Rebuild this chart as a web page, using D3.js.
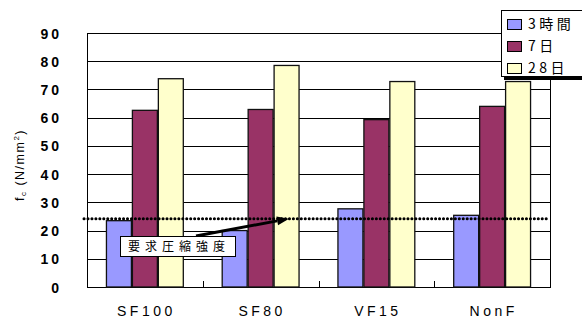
<!DOCTYPE html>
<html>
<head>
<meta charset="utf-8">
<script src="https://cdn.jsdelivr.net/npm/d3@7/dist/d3.min.js"></script>
<style>
  html, body { margin: 0; padding: 0; background: #fff; }
  svg { display: block; }
  text { font-family: "Liberation Sans", Arial, "Noto Sans CJK JP", sans-serif; fill: #000; }
  .jp { font-family: "Noto Sans CJK JP", "Liberation Sans", sans-serif; }
</style>
</head>
<body>
<svg id="chart" width="582" height="320"></svg>
<script>
// Compressive strength of each mix at three ages
const categories = ["SF100", "SF80", "VF15", "NonF"];
const seriesNames = ["3時間", "7日", "28日"];
const hours3 = [23.5, 20.0, 27.7, 25.4];
const days7 = [62.6, 62.9, 59.3, 64.0];
const days28 = [73.8, 78.5, 72.8, 72.8];
const requiredStrength = 24.2;
const requiredLabel = "要求圧縮強度";
const yTicks = [0, 10, 20, 30, 40, 50, 60, 70, 80, 90];

const seriesValues = [hours3, days7, days28];
const colors = ["#9999FF", "#993366", "#FFFFCC"];

const svg = d3.select("#chart");
const plot = { left: 87, right: 550, top: 33, bottom: 287 };

const x = d3.scaleBand().domain(categories).range([plot.left, plot.right]).padding(0);
const inner = d3.scaleBand().domain(d3.range(3)).range([0, x.bandwidth()])
  .paddingInner(0).paddingOuter(0.73);
const y = d3.scaleLinear().domain([0, 90]).range([plot.bottom, plot.top]);

// horizontal gridlines
svg.append("g").selectAll("line").data(yTicks).join("line")
  .attr("x1", plot.left).attr("x2", plot.right)
  .attr("y1", d => Math.round(y(d)) + 0.5).attr("y2", d => Math.round(y(d)) + 0.5)
  .attr("stroke", "#000").attr("stroke-width", 1);

// plot frame
svg.append("rect")
  .attr("x", plot.left + 0.5).attr("y", Math.round(y(90)) + 0.5)
  .attr("width", plot.right - plot.left).attr("height", Math.round(y(0)) - Math.round(y(90)))
  .attr("fill", "none").attr("stroke", "#000").attr("stroke-width", 1);

// y axis labels
const yAxis = d3.axisLeft(y).tickValues(yTicks).tickSize(0).tickPadding(0);
const gy = svg.append("g").attr("transform", `translate(${plot.left - 25},0)`).call(yAxis);
gy.select(".domain").remove();
gy.selectAll("text")
  .style("font-family", "'Liberation Sans', Arial, sans-serif")
  .style("font-size", "14px").style("font-weight", "bold")
  .style("letter-spacing", "3px").attr("fill", "#222").attr("dy", "0.36em");

// x axis: category labels and boundary ticks
const xAxis = d3.axisBottom(x).tickSize(0).tickPadding(0);
const gx = svg.append("g").attr("transform", `translate(0,${plot.bottom})`).call(xAxis);
gx.select(".domain").remove();
gx.selectAll("text")
  .style("font-family", "'Liberation Sans', Arial, sans-serif")
  .style("font-size", "14px").style("letter-spacing", "3.5px")
  .attr("fill", "#222").attr("y", 29).attr("dy", "0").attr("dx", "1.5px");

svg.append("g").selectAll("line").data(categories.slice(1)).join("line")
  .attr("x1", d => Math.round(x(d)) + 0.5).attr("x2", d => Math.round(x(d)) + 0.5)
  .attr("y1", plot.bottom).attr("y2", plot.bottom - 6)
  .attr("stroke", "#000");

// bars
const groups = svg.append("g").selectAll("g").data(categories).join("g")
  .attr("transform", d => `translate(${x(d)},0)`);
groups.selectAll("rect")
  .data((c, i) => seriesValues.map((s, k) => ({ k, v: s[i] })))
  .join("rect")
  .attr("x", d => inner(d.k) + 0.5)
  .attr("y", d => y(d.v))
  .attr("width", inner.bandwidth() - 1)
  .attr("height", d => y(0) - y(d.v))
  .attr("fill", d => colors[d.k])
  .attr("stroke", "#111").attr("stroke-width", 1.3);

// required strength reference line
svg.append("line")
  .attr("x1", plot.left - 3).attr("x2", plot.right - 2)
  .attr("y1", y(requiredStrength)).attr("y2", y(requiredStrength))
  .attr("stroke", "#000").attr("stroke-width", 3)
  .attr("stroke-linecap", "round").attr("stroke-dasharray", "0.1 3.85");

// arrow from the annotation to the reference line
const tip = [289, y(requiredStrength)];
const tail = [196, 236];
const ang = Math.atan2(tip[1] - tail[1], tip[0] - tail[0]);
const headLen = 12, headW = 4.5;
const base = [tip[0] - headLen * Math.cos(ang), tip[1] - headLen * Math.sin(ang)];
svg.append("line")
  .attr("x1", tail[0]).attr("y1", tail[1]).attr("x2", base[0]).attr("y2", base[1])
  .attr("stroke", "#000").attr("stroke-width", 3);
svg.append("path")
  .attr("d", d3.line()([
    tip,
    [base[0] + headW * Math.sin(ang), base[1] - headW * Math.cos(ang)],
    [base[0] - headW * Math.sin(ang), base[1] + headW * Math.cos(ang)]
  ]) + "Z")
  .attr("fill", "#000");

// annotation box
svg.append("rect")
  .attr("x", 120.5).attr("y", 236.5).attr("width", 115).attr("height", 20)
  .attr("fill", "#fff").attr("stroke", "#000").attr("stroke-width", 1);
svg.append("text").attr("class", "jp")
  .attr("x", 179).attr("y", 247).attr("text-anchor", "middle").attr("dy", "0.36em")
  .style("font-size", "12px").style("letter-spacing", "5px")
  .text(requiredLabel);

// y axis title: f_c (N/mm^2)
const title = svg.append("text")
  .attr("transform", "translate(24,165) rotate(-90)")
  .attr("text-anchor", "middle")
  .style("font-size", "12.5px").style("letter-spacing", "1.5px");
title.append("tspan").text("f");
title.append("tspan").attr("dy", "2").style("font-size", "8px").text("c");
title.append("tspan").attr("dy", "-2").text("  (N/mm");
title.append("tspan").attr("dy", "-5").style("font-size", "8px").text("2");
title.append("tspan").attr("dy", "5").text(")");

// legend with drop shadow
const legend = svg.append("g");
legend.append("rect").attr("x", 504).attr("y", 13).attr("width", 90).attr("height", 67).attr("fill", "#000");
legend.append("rect").attr("x", 501.5).attr("y", 10.5).attr("width", 90).attr("height", 66)
  .attr("fill", "#fff").attr("stroke", "#000").attr("stroke-width", 1);
const rows = legend.selectAll("g").data(seriesNames).join("g")
  .attr("transform", (d, i) => `translate(507,${24 + i * 22})`);
rows.append("rect").attr("x", 0.5).attr("y", -4.5).attr("width", 14).attr("height", 10)
  .attr("fill", (d, i) => colors[i]).attr("stroke", "#000").attr("stroke-width", 1);
rows.append("text").attr("class", "jp")
  .attr("x", 21).attr("dy", "0.36em")
  .style("font-size", "14px").style("letter-spacing", "3.5px")
  .text(d => d);
</script>
</body>
</html>
